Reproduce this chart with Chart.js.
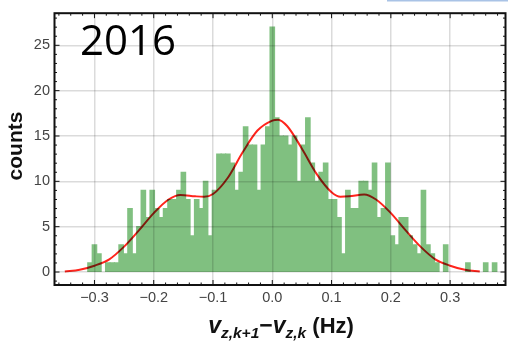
<!DOCTYPE html>
<html>
<head>
<meta charset="utf-8">
<script src="https://cdn.jsdelivr.net/npm/chart.js@4.4.1/dist/chart.umd.min.js"></script>
<style>
  body { margin: 0; background: #fff; }
  #wrap { width: 508px; height: 342px; }
</style>
</head>
<body>
<div id="wrap"><canvas id="grafico" width="508" height="342"></canvas></div>
<script>
// histogram: bins of 0.0075 Hz, first one centred at -0.3075
var binWidth = 0.0075;
var firstBin = -0.3075;
var counts = [
  1, 3, 2, 0, 1, 1, 1, 3, 2, 7,
  2, 5, 9, 6, 9, 7, 6, 7, 8, 8,
  9, 11, 8, 4, 8, 7, 10, 4, 9, 13,
  13, 13, 12, 9, 11, 16, 14, 14, 9, 14,
  16, 27, 17, 15, 15, 14, 15, 10, 14, 17,
  12, 10, 11, 12, 8, 8, 6, 2, 9, 7,
  7, 10, 10, 9, 12, 6, 7, 12, 4, 3,
  6, 6, 4, 3, 2, 9, 3, 2, 1, 0,
  3, 0, 0, 0, 0, 1, 0, 0, 0, 1,
  0, 1
];
// red fit curve
var curveX = [-0.35, -0.325, -0.30, -0.275, -0.25, -0.225, -0.20, -0.175, -0.155, -0.13, -0.115, -0.10, -0.075, -0.05, -0.025, 0.0, 0.01, 0.025, 0.05, 0.075, 0.10, 0.115, 0.13, 0.155, 0.175, 0.20, 0.225, 0.25, 0.275, 0.30, 0.325, 0.35];
var curveY = [0.05, 0.25, 0.7, 1.4, 2.8, 4.6, 6.5, 8.0, 8.5, 8.35, 8.3, 8.6, 10.4, 13.2, 15.6, 16.7, 16.8, 16.1, 13.6, 10.8, 8.8, 8.3, 8.35, 8.55, 8.0, 6.5, 4.6, 2.8, 1.4, 0.7, 0.25, 0.05];
var xTicks = [-0.3, -0.2, -0.1, 0.0, 0.1, 0.2, 0.3];
var yTicks = [0, 5, 10, 15, 20, 25];

var barras = counts.map(function (c, i) {
  // empty bins are left out so no sliver is drawn at 0
  return { x: +(firstBin + i * binWidth).toFixed(5), y: c === 0 ? null : c };
});
var curva = curveX.map(function (x, i) { return { x: x, y: curveY[i] }; });

// red line is blended over the bars like the original
var mezcla = {
  id: 'mezcla',
  beforeDatasetDraw: function (chart, args) {
    if (args.meta.type === 'line') chart.ctx.globalCompositeOperation = 'multiply';
  },
  afterDatasetDraw: function (chart) {
    chart.ctx.globalCompositeOperation = 'source-over';
  }
};

// frame with inner ticks, titles and the "2016" label
var marco = {
  id: 'marco',
  afterDraw: function (chart) {
    var ctx = chart.ctx, a = chart.chartArea;
    var sx = chart.scales.x, sy = chart.scales.y;
    ctx.save();
    ctx.strokeStyle = '#111';
    ctx.lineWidth = 1;
    ctx.beginPath();
    for (var i = -18; i <= 19; i++) {
      var px = sx.getPixelForValue(i * 0.02);
      if (px < a.left + 1 || px > a.right - 1) continue;
      var len = (i % 5 === 0) ? 5 : 2.5;
      ctx.moveTo(px, a.bottom); ctx.lineTo(px, a.bottom - len);
      ctx.moveTo(px, a.top); ctx.lineTo(px, a.top + len);
    }
    for (var j = -1; j <= 28; j++) {
      var py = sy.getPixelForValue(j);
      if (py < a.top + 1 || py > a.bottom - 1) continue;
      var l2 = (j % 5 === 0) ? 5 : 2.5;
      ctx.moveTo(a.left, py); ctx.lineTo(a.left + l2, py);
      ctx.moveTo(a.right, py); ctx.lineTo(a.right - l2, py);
    }
    ctx.stroke();
    ctx.lineWidth = 2;
    ctx.strokeRect(a.left, a.top, a.right - a.left, a.bottom - a.top);

    // thin blue line at top right
    ctx.fillStyle = '#a9c3e6';
    ctx.fillRect(387, 0, 121, 1.5);

    // year label
    ctx.fillStyle = '#000';
    ctx.font = '42px "Open Sans"';
    ctx.textAlign = 'left';
    ctx.textBaseline = 'alphabetic';
    ctx.fillText('2016', 80, 55);

    // y title
    ctx.save();
    ctx.translate(22, 146);
    ctx.rotate(-Math.PI / 2);
    ctx.font = 'bold 21px "Liberation Sans"';
    ctx.textAlign = 'center';
    ctx.fillStyle = '#111';
    ctx.fillText('counts', 0, 0);
    ctx.restore();

    // x title with subscripts
    var piezas = [
      ['v', 'italic bold 23px "Liberation Sans"', 0],
      ['z,k+1', 'italic bold 15.5px "Liberation Sans"', 5],
      ['\u2212', 'bold 23px "Liberation Sans"', 0],
      ['v', 'italic bold 23px "Liberation Sans"', 0],
      ['z,k', 'italic bold 15.5px "Liberation Sans"', 5],
      [' (Hz)', 'bold 22px "Liberation Sans"', 0]
    ];
    var total = 0;
    piezas.forEach(function (p) { ctx.font = p[1]; total += ctx.measureText(p[0]).width; });
    var x0 = 281 - total / 2;
    ctx.textAlign = 'left';
    ctx.fillStyle = '#111';
    piezas.forEach(function (p) {
      ctx.font = p[1];
      ctx.fillText(p[0], x0, 333 + p[2]);
      x0 += ctx.measureText(p[0]).width;
    });
    ctx.restore();
  }
};

var ctx = document.getElementById('grafico').getContext('2d');
new Chart(ctx, {
  type: 'bar',
  data: {
    datasets: [
      {
        type: 'bar',
        data: barras,
        backgroundColor: 'rgb(128,192,128)',
        borderWidth: 0,
        barPercentage: 1,
        categoryPercentage: 1,
        inflateAmount: 0.6,
        order: 1
      },
      {
        type: 'line',
        data: curva,
        borderColor: 'rgb(255,36,28)',
        borderWidth: 2,
        pointRadius: 0,
        fill: false,
        cubicInterpolationMode: 'monotone',
        order: 0
      }
    ]
  },
  options: {
    responsive: false,
    animation: false,
    devicePixelRatio: 1,
    layout: { padding: { top: 6, right: 2.5, left: 0, bottom: 0 } },
    plugins: { legend: { display: false }, tooltip: { enabled: false } },
    scales: {
      x: {
        type: 'linear',
        min: -0.3674,
        max: 0.3934,
        offset: false,
        grid: { offset: false, color: 'rgba(0,0,0,0.14)', lineWidth: 1.5, drawTicks: false, z: 1 },
        border: { display: false },
        ticks: {
          padding: 4,
          color: '#444',
          font: { family: 'Liberation Sans', size: 14.5 },
          maxRotation: 0,
          callback: function (v) { return v.toFixed(1).replace('-', '\u2212'); }
        },
        afterBuildTicks: function (s) { s.ticks = xTicks.map(function (v) { return { value: v }; }); },
        afterFit: function (s) { s.height = 57; }
      },
      y: {
        min: -1.43,
        max: 28.54,
        grid: { color: 'rgba(0,0,0,0.14)', lineWidth: 1.5, drawTicks: false, z: 1 },
        border: { display: false },
        ticks: {
          padding: 4.5,
          color: '#444',
          font: { family: 'Liberation Sans', size: 14.5 }
        },
        afterBuildTicks: function (s) { s.ticks = yTicks.map(function (v) { return { value: v }; }); },
        afterFit: function (s) { s.width = 54.5; }
      }
    }
  },
  plugins: [mezcla, marco]
});
</script>
</body>
</html>
